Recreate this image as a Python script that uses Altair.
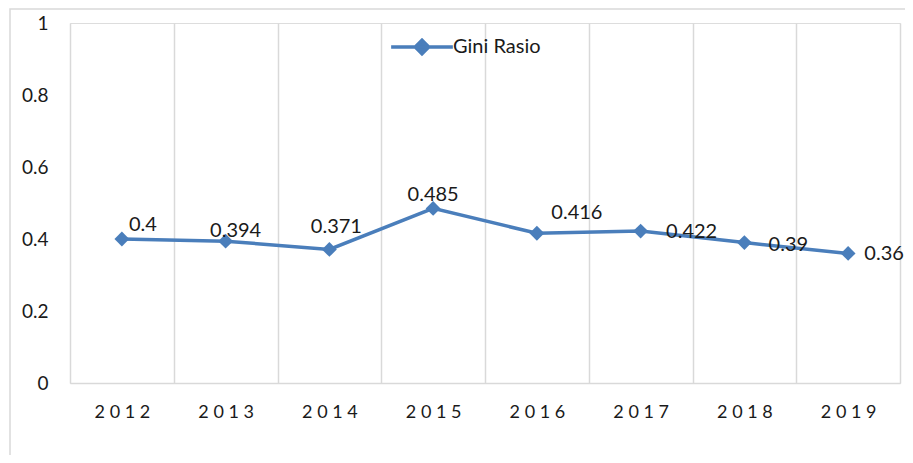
import altair as alt
import pandas as pd

years = ["2012", "2013", "2014", "2015", "2016", "2017", "2018", "2019"]
gini = [0.4, 0.394, 0.371, 0.485, 0.416, 0.422, 0.39, 0.36]
series_name = "Gini Rasio"
# label nudges (pixels) relative to each point, as placed in the original
label_dx = [21, 10, 7, 0, 40, 51, 44, 36]
label_dy = [-14, -10, -22, -13, -20, 1, 2, 1]

BLUE = "#4A7EBB"
GRID = "#D9D9D9"
FONT = "Lato"
TXT = "#1a1a1a"

df = pd.DataFrame({
    "year": years,
    "value": gini,
    "label": [str(v) for v in gini],
    "series": [series_name] * len(years),
})

W, H = 830, 360

x_enc = alt.X(
    "year:N",
    sort=years,
    scale=alt.Scale(paddingInner=0, paddingOuter=0),
    axis=alt.Axis(
        title=None,
        labelAngle=0,
        labelExpr="join(split(datum.label, ''), ' ')",
        labelFont=FONT,
        labelFontSize=18,
        labelColor=TXT,
        labelPadding=20,
        ticks=False,
        tickBand="extent",
        grid=True,
        gridColor=GRID,
        gridWidth=1.5,
        domainColor=GRID,
        domainWidth=1.5,
    ),
)
y_enc = alt.Y(
    "value:Q",
    scale=alt.Scale(domain=[0, 1], nice=False),
    axis=alt.Axis(
        title=None,
        values=[0, 0.2, 0.4, 0.6, 0.8, 1],
        format="~g",
        labelFont=FONT,
        labelFontSize=19,
        labelColor=TXT,
        labelPadding=22,
        ticks=False,
        grid=False,
        domain=False,
    ),
)

color_enc = alt.Color(
    "series:N",
    scale=alt.Scale(domain=[series_name], range=[BLUE]),
    legend=alt.Legend(
        title=None,
        orient="none",
        legendX=342,
        legendY=14,
        symbolType="M-4.6,0H4.6M-1,0L0,-1L1,0L0,1Z",
        symbolSize=180,
        symbolStrokeWidth=3.5,
        symbolFillColor=BLUE,
        symbolStrokeColor=BLUE,
        labelFont=FONT,
        labelFontSize=20,
        labelColor=TXT,
        labelOffset=21,
        padding=0,
    ),
)

base = alt.Chart(df)

line = base.mark_line(strokeWidth=3.5).encode(x=x_enc, y=y_enc, color=color_enc)
pts = base.mark_point(shape="diamond", filled=True, size=220, opacity=1).encode(
    x=x_enc, y=y_enc,
    color=alt.Color("series:N", scale=alt.Scale(domain=[series_name], range=[BLUE]), legend=None),
)

label_layers = []
for i, yr in enumerate(years):
    label_layers.append(
        base.transform_filter(alt.datum.year == yr)
        .mark_text(font=FONT, fontSize=20, color=TXT, align="center", baseline="middle",
                   dx=label_dx[i], dy=label_dy[i])
        .encode(x=x_enc, y=y_enc, text="label:N")
    )

border = alt.Chart(alt.Data(values=[{"a": 1}])).mark_rect(
    fill=None, fillOpacity=0, stroke=GRID, strokeWidth=1.5
).encode(
    x=alt.value(-60), x2=alt.value(W + 200), y=alt.value(-14), y2=alt.value(H + 200)
)

chart = alt.layer(border, line, pts, *label_layers).properties(
    width=W,
    height=H,
    autosize=alt.AutoSizeParams(type="none"),
    padding={"left": 62, "top": 15, "right": 5, "bottom": 72},
).configure_view(stroke=None).configure(background="white")

chart.save("out.html", embed_options={"renderer": "svg", "actions": False})
